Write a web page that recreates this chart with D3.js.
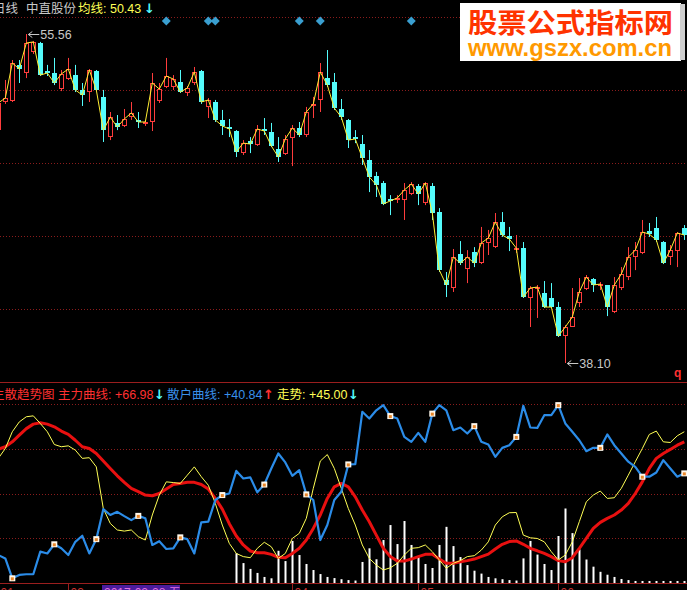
<!DOCTYPE html>
<html><head><meta charset="utf-8">
<script src="https://cdn.jsdelivr.net/npm/d3@7/dist/d3.min.js"></script>
<style>html,body{margin:0;padding:0;background:#000;overflow:hidden}svg{display:block}</style>
</head><body>
<svg id="c" width="687" height="590"></svg>
<script>
// ---------- data ----------
const openP = [50.46,51.95,52.00,53.92,53.49,54.60,55.08,53.60,53.49,52.64,
 53.17,53.38,52.59,52.48,53.60,52.22,50.09,50.84,50.68,51.15,
 51.00,50.78,50.89,52.00,52.75,52.75,53.01,52.43,52.96,53.60,
 51.69,51.95,51.00,50.62,50.41,49.24,49.88,49.67,50.52,50.36,
 49.46,49.19,50.04,50.57,50.20,51.74,52.06,53.22,53.01,51.58,
 51.00,50.09,49.72,48.87,48.02,47.65,46.80,46.75,46.75,47.07,
 47.49,46.59,47.49,46.11,42.50,42.08,43.88,43.09,43.99,43.40,
 44.47,44.25,45.58,44.84,44.09,44.20,41.55,42.03,41.81,41.55,
 41.07,39.53,40.01,41.28,42.03,42.56,42.18,42.24,40.80,42.08,
 42.66,43.72,43.94,45.10,45.26,44.52,43.72,44.04,45.26];
const closeP = [51.90,52.16,54.02,53.70,55.08,55.14,53.38,53.49,52.96,53.44,
 53.70,52.59,52.32,53.65,52.59,50.46,51.15,50.62,51.05,51.37,
 50.89,50.89,52.96,52.64,53.33,53.17,52.48,52.69,53.54,51.95,
 52.06,51.00,50.68,50.52,49.30,49.77,49.72,50.52,50.41,49.62,
 49.03,49.99,50.57,50.20,51.42,51.85,53.54,52.85,51.63,51.15,
 49.93,49.99,48.98,47.97,47.55,46.54,46.70,46.86,47.28,47.60,
 47.07,47.65,46.06,43.03,42.24,43.72,43.40,43.72,43.40,44.47,
 44.73,45.58,44.89,44.68,44.20,41.60,42.08,42.13,41.07,41.07,
 39.53,40.01,40.54,41.87,42.66,42.24,42.29,41.07,42.24,42.82,
 43.72,44.09,45.05,44.94,44.63,43.40,44.09,45.00,44.89];
const highP = [52.06,53.12,54.18,54.18,55.56,55.19,55.14,53.92,54.29,53.65,
 54.29,53.92,52.96,53.70,53.65,52.59,51.42,51.26,51.58,51.95,
 51.42,51.00,53.49,52.96,54.29,53.38,53.65,52.80,53.81,53.65,
 52.16,52.06,51.53,51.05,50.46,49.93,50.09,50.73,51.10,50.84,
 50.09,50.20,50.73,50.89,51.69,52.22,54.02,54.71,53.49,52.11,
 51.05,50.46,50.20,49.40,48.24,47.76,47.01,47.01,47.65,47.70,
 47.60,47.70,47.65,46.32,42.93,44.15,44.57,44.09,44.25,45.32,
 45.16,46.06,46.11,45.32,44.89,44.52,42.18,42.24,42.45,42.34,
 41.34,40.11,42.08,42.61,42.77,42.61,42.40,42.24,42.66,43.19,
 44.25,44.52,45.69,45.53,45.85,44.57,44.36,45.05,45.42];
const lowP = [50.09,51.85,51.95,52.96,53.22,54.50,53.33,53.33,52.85,52.53,
 53.12,52.48,51.74,51.95,52.53,49.83,49.93,50.46,50.62,51.00,
 50.57,50.68,50.41,51.90,52.69,52.59,52.43,52.27,52.85,51.85,
 51.10,50.89,50.20,50.09,49.03,49.14,49.24,49.62,50.20,49.56,
 48.77,49.14,48.55,50.09,50.09,51.10,51.42,52.75,51.53,51.00,
 49.51,49.77,48.61,47.17,46.91,46.48,45.95,46.59,45.69,47.01,
 46.48,46.48,45.69,42.93,41.60,41.87,43.30,42.34,43.19,43.35,
 43.83,44.20,44.79,44.04,43.94,41.55,40.01,40.49,41.02,41.02,
 39.48,38.10,40.01,41.07,41.97,41.87,41.97,40.59,40.75,41.97,
 42.50,43.03,43.88,44.79,44.52,43.35,43.30,43.19,44.63];

// 主力曲线 (red)
const mainForce = [59.8,60.9,63.1,66.1,69.0,71.0,71.6,71.0,69.8,67.9,
 66.4,63.8,60.9,60.1,57.9,54.5,51.2,47.9,45.0,42.3,
 40.8,39.3,39.0,40.0,42.0,44.0,44.5,45.0,45.0,44.0,
 42.0,37.8,33.0,26.5,21.0,17.0,14.3,13.5,13.5,12.8,
 11.5,11.3,13.2,15.5,19.2,24.4,30.4,37.8,43.0,44.5,
 43.0,38.5,32.6,27.4,21.4,15.5,11.8,9.8,9.8,10.7,
 11.8,12.8,12.8,10.7,8.8,8.8,9.5,10.0,10.7,11.8,
 12.9,15.2,17.3,18.5,18.8,17.3,15.5,14.4,13.2,11.8,
 10.0,9.5,11.3,15.5,19.9,24.4,27.1,28.9,30.4,32.6,
 35.6,40.0,45.2,51.2,55.7,57.9,59.7,61.6,63.1];
// 散户曲线 (blue)
const retail = [12.5,11.0,2.1,3.6,3.9,3.9,14.0,13.2,17.3,15.5,
 12.5,18.4,21.1,13.2,19.6,33.0,30.4,31.8,29.9,28.1,
 30.0,28.9,17.0,18.7,15.2,15.5,20.4,19.6,13.2,27.1,
 27.4,37.1,39.3,40.0,50.1,46.7,47.2,40.5,44.0,51.2,
 57.9,53.9,47.9,50.4,39.6,37.1,19.2,25.9,37.1,40.8,
 53.0,53.1,76.5,73.5,77.2,79.5,74.6,73.5,65.3,63.1,
 67.1,63.1,75.7,79.5,77.2,68.3,69.5,66.8,70.1,63.1,
 61.9,56.4,60.4,61.6,65.3,79.2,69.5,69.3,75.0,75.0,
 79.5,71.3,67.6,63.8,58.9,60.4,60.4,66.4,61.6,57.9,
 54.2,51.9,47.5,47.5,49.4,54.9,51.2,47.5,49.0];
// 走势 (yellow)
const trend = [55.7,60.1,67.6,72.0,74.3,74.7,71.3,67.6,61.9,60.9,
 61.3,59.4,55.7,56.0,51.9,33.3,26.6,23.7,23.2,23.7,
 20.7,19.2,30.4,39.3,45.2,44.9,44.5,48.2,51.9,47.5,
 43.7,35.6,25.9,17.7,13.2,11.8,11.3,15.5,18.2,16.2,
 11.0,13.2,19.9,22.2,28.9,42.3,54.5,57.4,51.2,42.3,
 33.3,25.9,17.0,11.0,8.0,5.8,6.8,8.8,12.5,15.5,
 15.8,17.0,14.0,10.3,6.6,8.8,10.0,11.8,12.2,14.7,
 18.4,25.9,29.6,31.4,31.5,21.4,20.2,19.9,18.4,14.0,
 10.3,12.5,18.4,27.4,36.3,39.3,41.1,37.8,38.1,42.3,
 48.2,54.2,60.1,66.4,67.9,63.1,62.8,65.8,67.6];
// white signal bars
const spikes = [0,0,0,0,0,0,0,0,0,0,
 0,0,0,0,0,0,0,0,0,0,
 0,0,0,0,0,0,0,0,0,0,
 0,0,0,0,13.3,8.9,6.3,4.5,2.7,2.1,
 14.4,9.8,18.8,12.5,8.5,5.8,4.0,2.7,2.2,1.7,
 1.3,1.1,9.4,15.5,10.6,19.2,25.9,17.4,27.7,17.0,
 11.6,8.5,6.7,17.0,25.1,16.5,11.6,8.0,5.5,4.2,
 2.7,2.1,1.7,1.3,1.1,11.0,18.8,12.7,8.5,5.8,
 21.0,33.3,22.3,15.0,10.5,7.3,5.0,3.7,2.7,1.8,
 1.3,0.9,0.9,0.9,0.9,0.9,0.9,0.9,0.9];
const retailMarks = [2,8,14,20,26,32,38,44,50,56,62,68,74,80,86,92,98];
const signalDiamonds = [24,30,31,43,46,59];
const tickLabels = ["01","03","04","05","06"];
const tickIndex = [0,10,42,60,80];
const priceGrid = [56.46,52.59,48.71,44.84,40.96];
const indGrid = [20,40,60,80];
const highIdx = 4, lowIdx = 81;
const cursorIdx = 15, cursorLabel = "2017-02-28 五";

// ---------- scales ----------
const svg = d3.select("#c");
const W = 687;
const FONT = "'Liberation Sans','Noto Sans CJK SC',sans-serif";
svg.append("rect").attr("width",W).attr("height",590).attr("fill","#000");

const x = d3.scaleLinear().domain([0, openP.length-1]).range([-1.7, 684.3]);
const yP = d3.scaleLinear().domain([d3.min(lowP), d3.max(highP)]).range([363, 34]);
const yI = d3.scaleLinear().domain([0, 80]).range([583, 404]);
const px = i => Math.round(x(i));

// ---------- grids & frame ----------
const gridC = "#8a1c1c";
svg.append("g").selectAll("line").data(priceGrid).join("line")
  .attr("x1",0).attr("x2",W).attr("y1",d=>Math.round(yP(d))+0.5).attr("y2",d=>Math.round(yP(d))+0.5)
  .attr("stroke",gridC).attr("stroke-dasharray","1,2");
svg.append("g").selectAll("line").data(indGrid).join("line")
  .attr("x1",0).attr("x2",W).attr("y1",d=>Math.round(yI(d))+0.5).attr("y2",d=>Math.round(yI(d))+0.5)
  .attr("stroke",gridC).attr("stroke-dasharray","1,2");
svg.append("line").attr("x1",0).attr("x2",W).attr("y1",382.5).attr("y2",382.5).attr("stroke","#9a1e1e");
svg.append("line").attr("x1",0).attr("x2",W).attr("y1",yI(0)+0.5).attr("y2",yI(0)+0.5).attr("stroke","#9a1e1e");

// ---------- candles ----------
const UP = "#ff3c3c", DN = "#54fcfc";
const cg = svg.append("g");
openP.forEach((o,i)=>{
  const c = closeP[i], cx = px(i);
  const yo = yP(o), yc = yP(c), yh = yP(highP[i]), yl = yP(lowP[i]);
  const top = Math.round(Math.min(yo,yc)), bot = Math.round(Math.max(yo,yc));
  const up = c > o;
  const col = up ? UP : DN;
  if (bot - top < 2) {
    cg.append("line").attr("x1",cx+0.5).attr("x2",cx+0.5).attr("y1",yh).attr("y2",yl).attr("stroke",col);
    cg.append("line").attr("x1",cx-2).attr("x2",cx+3).attr("y1",top+0.5).attr("y2",top+0.5).attr("stroke",col);
  } else if (up) {
    cg.append("line").attr("x1",cx+0.5).attr("x2",cx+0.5).attr("y1",yh).attr("y2",top).attr("stroke",col);
    cg.append("line").attr("x1",cx+0.5).attr("x2",cx+0.5).attr("y1",bot).attr("y2",yl).attr("stroke",col);
    cg.append("rect").attr("x",cx-1.5).attr("y",top+0.5).attr("width",4).attr("height",bot-top-1)
      .attr("fill","#000").attr("stroke",col);
  } else {
    cg.append("line").attr("x1",cx+0.5).attr("x2",cx+0.5).attr("y1",yh).attr("y2",yl).attr("stroke",col);
    cg.append("rect").attr("x",cx-2).attr("y",top).attr("width",5).attr("height",bot-top).attr("fill",col);
  }
});
// close line (均线)
svg.append("path").datum(closeP)
  .attr("d", d3.line().x((d,i)=>x(i)).y(d=>yP(d)))
  .attr("fill","none").attr("stroke","#ffee33").attr("stroke-width",1);

// diamonds
svg.append("g").selectAll("path").data(signalDiamonds).join("path")
  .attr("d", d3.symbol(d3.symbolSquare, 40)())
  .attr("transform", d=>`translate(${x(d)},21) rotate(45)`)
  .attr("fill","#3a9fd0");

// extreme labels
function extreme(idx, val){
  const ex = x(idx)+2, ey = Math.round(yP(val))+0.5;
  const g = svg.append("g");
  g.append("line").attr("x1",ex).attr("x2",ex+11).attr("y1",ey).attr("y2",ey).attr("stroke","#c8c8c8");
  g.append("path").attr("d",`M${ex},${ey} l4,-3 M${ex},${ey} l4,3`).attr("stroke","#c8c8c8").attr("fill","none");
  g.append("text").attr("x",ex+12).attr("y",ey+4.5).attr("fill","#c8c8c8")
    .attr("font-family",FONT).attr("font-size",12.5).text(val.toFixed(2));
}
extreme(highIdx, highP[highIdx]);
extreme(lowIdx, lowP[lowIdx]);

svg.append("text").attr("x",674).attr("y",377).attr("fill","#ff3030").attr("font-family",FONT)
  .attr("font-size",12).attr("font-weight","bold").text("q");

// ---------- indicator panel ----------
const bg = svg.append("g");
spikes.forEach((v,i)=>{
  if (v <= 0) return;
  bg.append("rect").attr("x",px(i)-0.5).attr("y",yI(v)).attr("width",2).attr("height",yI(0)-yI(v)).attr("fill","#fff");
});
const lineI = d3.line().x((d,i)=>x(i)).y(d=>yI(d));
svg.append("path").datum(mainForce).attr("d",lineI).attr("fill","none").attr("stroke","#e81010").attr("stroke-width",3).attr("stroke-linejoin","round");
svg.append("path").datum(trend).attr("d",lineI).attr("fill","none").attr("stroke","#ffff55").attr("stroke-width",1);
svg.append("path").datum(retail).attr("d",lineI).attr("fill","none").attr("stroke","#2b8ce8").attr("stroke-width",2.2).attr("stroke-linejoin","round");
const mg = svg.append("g");
retailMarks.forEach(i=>{
  const mx = x(i), my = yI(retail[i]);
  mg.append("rect").attr("x",mx-3).attr("y",my-3).attr("width",6).attr("height",6).attr("fill","#fff8ec");
  mg.append("rect").attr("x",mx-1.5).attr("y",my-1).attr("width",3).attr("height",3).attr("fill","#e8862a");
});

// ---------- bottom axis ----------
tickIndex.forEach((k,j)=>{
  const tx = px(k)+0.5;
  svg.append("line").attr("x1",tx).attr("x2",tx).attr("y1",584).attr("y2",590).attr("stroke","#9a1e1e");
  svg.append("text").attr("x",tx+2).attr("y",597).attr("fill","#c83030").attr("font-family",FONT)
    .attr("font-size",12).text(tickLabels[j]);
});
svg.append("rect").attr("x",px(cursorIdx)-1).attr("y",585).attr("width",78).attr("height",5).attr("fill","#4c1c9c");
svg.append("text").attr("x",px(cursorIdx)+1).attr("y",597).attr("fill","#e070e0").attr("font-family",FONT)
  .attr("font-size",12).text(cursorLabel);

// ---------- headers ----------
function seg(xp, yp, txt, col){
  svg.append("text").attr("x",xp).attr("y",yp).attr("fill",col).attr("font-family",FONT)
    .attr("font-size",12.5).text(txt);
}
function arrow(xp, yp, txt, col){
  svg.append("text").attr("x",xp).attr("y",yp).attr("fill",col).attr("font-family","'DejaVu Sans',sans-serif")
    .attr("font-size",13).attr("font-weight","bold").text(txt);
}
seg(-7, 13, "日线", "#c8c8c8");
seg(26, 13, "中直股份", "#c8c8c8");
seg(78, 13, "均线: 50.43", "#ffff55");
arrow(144, 13, "↓", "#54fcfc");
seg(-8, 399, "主散趋势图", "#ff3030");
seg(58, 399, "主力曲线: +66.98", "#ff3030");
arrow(154, 399, "↓", "#54fcfc");
seg(167, 399, "散户曲线: +40.84", "#3a90ea");
arrow(263, 399, "↑", "#ff3030");
seg(277, 399, "走势: +45.00", "#ffff55");
arrow(348, 399, "↓", "#54fcfc");

// ---------- watermark ----------
svg.append("rect").attr("x",460).attr("y",3).attr("width",221).attr("height",58).attr("fill","#ffffff");
svg.append("rect").attr("x",680).attr("y",4).attr("width",5).attr("height",56).attr("fill","#cfcfcf");
svg.append("text").attr("x",468).attr("y",33).attr("fill","#ff3300").attr("font-weight","bold")
  .attr("font-family","'Noto Sans CJK SC',sans-serif").attr("font-size",27)
  .attr("textLength",205).attr("lengthAdjust","spacingAndGlyphs").text("股票公式指标网");
svg.append("text").attr("x",468).attr("y",56).attr("fill","#ff9900").attr("font-weight","bold")
  .attr("font-family","'Liberation Sans',sans-serif").attr("font-size",23)
  .attr("textLength",204).attr("lengthAdjust","spacingAndGlyphs").text("www.gszx.com.cn");
</script>
</body></html>
